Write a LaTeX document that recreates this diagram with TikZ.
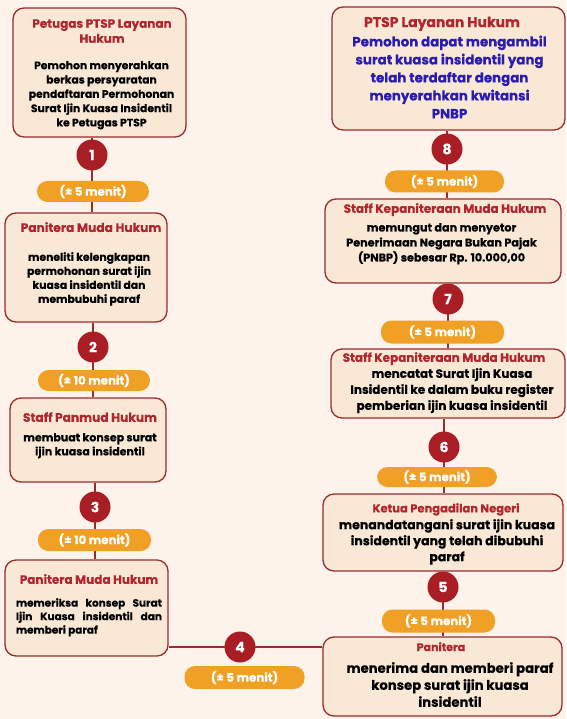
\documentclass[tikz,border=0pt]{standalone}
\usepackage{fontspec}
\setmainfont{Poppins}[BoldFeatures={FakeBold=0.4}]
\usetikzlibrary{positioning,backgrounds}

\definecolor{bgcream}{HTML}{FDF3EA}
\definecolor{boxfill}{HTML}{F8E8D5}
\definecolor{boxline}{HTML}{9A2B2F}
\definecolor{dotred}{HTML}{A91E25}
\definecolor{pillorange}{HTML}{F0A024}
\definecolor{titlered}{HTML}{B0262C}
\definecolor{bluetext}{HTML}{2B1CB0}

\begin{document}
\begin{tikzpicture}[x=1pt,y=-1pt]

\tikzset{
    stepbox/.style={draw=boxline, line width=1.3pt, fill=boxfill, rounded corners=11pt, inner sep=0pt},
    numdot/.style={circle, fill=dotred, minimum size=31pt, inner sep=0pt, text=white, font=\fontsize{14}{14}\selectfont\bfseries},
    pill/.style={fill=pillorange, rounded corners=10.5pt, minimum height=21pt, inner sep=0pt, text=white, font=\fontsize{11.8}{12}\selectfont\bfseries},
    conn/.style={draw=boxline, line width=1.3pt},
    head/.style={anchor=north, text=titlered, align=center, inner sep=0pt},
    body/.style={anchor=north, text=black, align=center, inner sep=0pt}
}
\useasboundingbox (0,0) rectangle (566,719);

% left column
\node[stepbox, minimum width=173pt, minimum height=129pt] (b1) at (99.5,72.5) {};
\node[head, font=\fontsize{12}{15}\selectfont\bfseries] (t1) at (102,19) {Petugas PTSP Layanan\\Hukum};
\node[body, font=\fontsize{10.8}{14.3}\selectfont\bfseries] (x1) at (101.5,61) {Pemohon menyerahkan\\berkas persyaratan\\pendaftaran Permohonan\\Surat Ijin Kuasa Insidentil\\ke Petugas PTSP};
\node[numdot] (c1) at (92,155) {1};
\node[pill, minimum width=112pt] (p1) at (93,191.5) {(± 5 menit)};

\node[stepbox, minimum width=162pt, minimum height=109pt] (b2) at (86,267.5) {};
\node[head, font=\fontsize{12.2}{14}\selectfont\bfseries] (t2) at (91,222) {Panitera Muda Hukum};
\node[body, font=\fontsize{10.8}{14}\selectfont\bfseries] (x2) at (89,252) {meneliti kelengkapan\\permohonan surat ijin\\kuasa insidentil dan\\membubuhi paraf};
\node[numdot] (c2) at (93,347) {2};
\node[pill, minimum width=112pt] (p2) at (94,380.5) {(± 10 menit)};

\node[stepbox, minimum width=156pt, minimum height=84pt] (b3) at (88,440) {};
\node[head, font=\fontsize{12.2}{14}\selectfont\bfseries] (t3) at (90,412) {Staff Panmud Hukum};
\node[body, font=\fontsize{11}{14}\selectfont\bfseries] (x3) at (90,433) {membuat konsep surat\\ijin kuasa insidentil};
\node[numdot] (c3) at (95,507) {3};
\node[pill, minimum width=113pt, minimum height=22pt] (p3) at (94.5,540) {(± 10 menit)};

\node[stepbox, minimum width=163pt, minimum height=96pt] (b4) at (86.5,608) {};
\node[head, font=\fontsize{12}{14}\selectfont\bfseries] (t4) at (89,574) {Panitera Muda Hukum};
\node[body, align=justify, text width=146pt, font=\fontsize{10.5}{13.5}\selectfont\bfseries] (x4) at (89,598) {memeriksa konsep Surat\linebreak Ijin Kuasa insidentil dan\linebreak memberi paraf};

% bottom link
\node[numdot] (c4) at (240,647) {4};
\node[pill, minimum width=120pt, minimum height=23pt] (p4) at (244.5,677.5) {(± 5 menit)};

% right column
\node[stepbox, minimum width=239pt, minimum height=79pt] (b5) at (442.5,676.5) {};
\node[head, font=\fontsize{11}{14}\selectfont\bfseries] (t5) at (441,642) {Panitera};
\node[body, font=\fontsize{13.2}{17}\selectfont\bfseries] (x5) at (450,662) {menerima dan memberi paraf\\konsep surat ijin kuasa\\insidentil};
\node[numdot] (c5) at (443,587) {5};
\node[pill, minimum width=113pt, minimum height=23pt] (p5) at (438.5,621) {(± 5 menit)};

\node[stepbox, minimum width=240pt, minimum height=77pt] (b6) at (443,532.5) {};
\node[head, font=\fontsize{11.5}{14}\selectfont\bfseries] (t6) at (446,503) {Ketua Pengadilan Negeri};
\node[body, font=\fontsize{12.5}{16}\selectfont\bfseries] (x6) at (447,519) {menandatangani surat ijin kuasa\\insidentil yang telah dibubuhi\\paraf};
\node[numdot] (c6) at (444,447) {6};
\node[pill, minimum width=120pt, minimum height=20pt] (p6) at (437,477) {(± 5 menit)};

\node[stepbox, minimum width=234pt, minimum height=69pt] (b7) at (448,383.5) {};
\node[head, font=\fontsize{12}{14}\selectfont\bfseries] (t7) at (444,352) {Staff Kepaniteraan Muda Hukum};
\node[body, font=\fontsize{12}{16}\selectfont\bfseries] (x7) at (452,368) {mencatat Surat Ijin Kuasa\\Insidentil ke dalam buku register\\pemberian ijin kuasa insidentil};
\node[numdot] (c7) at (448,299) {7};
\node[pill, minimum width=123pt, minimum height=23pt] (p7) at (442.5,332) {(± 5 menit)};

\node[stepbox, minimum width=236pt, minimum height=84pt] (b8) at (443,241) {};
\node[head, font=\fontsize{12}{14}\selectfont\bfseries] (t8) at (445,203) {Staff Kepaniteraan Muda Hukum};
\node[body, font=\fontsize{11.2}{15}\selectfont\bfseries] (x8) at (441.5,223) {memungut dan menyetor\\Penerimaan Negara Bukan Pajak\\(PNBP) sebesar Rp. 10.000,00};
\node[numdot] (c8) at (447,149) {8};
\node[pill, minimum width=119pt, minimum height=22pt] (p8) at (444.5,181.5) {(± 5 menit)};

\node[stepbox, minimum width=233pt, minimum height=123pt] (b9) at (448.5,68.5) {};
\node[head, font=\fontsize{14}{14}\selectfont\bfseries] (t9) at (442,16.5) {PTSP Layanan Hukum};
\node[body, text=bluetext, font=\fontsize{13.4}{18}\selectfont\bfseries] (x9) at (449.5,35.5) {Pemohon dapat mengambil\\surat kuasa insidentil yang\\telah terdaftar dengan\\menyerahkan kwitansi\\PNBP};

\begin{scope}[on background layer]
    \fill[bgcream] (0,0) rectangle (566,719);
    \draw[conn] (b1.south -| c1) -- (b2.north -| c1);
    \draw[conn] (b2.south -| c2) -- (b3.north -| c2);
    \draw[conn] (b3.south -| c3) -- (b4.north -| c3);
    \draw[conn] (b4.east |- c4) -- (b5.west |- c4);
    \draw[conn] (b5.north -| c5) -- (b6.south -| c5);
    \draw[conn] (b6.north -| c6) -- (b7.south -| c6);
    \draw[conn] (b7.north -| c7) -- (b8.south -| c7);
    \draw[conn] (b8.north -| c8) -- (b9.south -| c8);
\end{scope}
\end{tikzpicture}
\end{document}
